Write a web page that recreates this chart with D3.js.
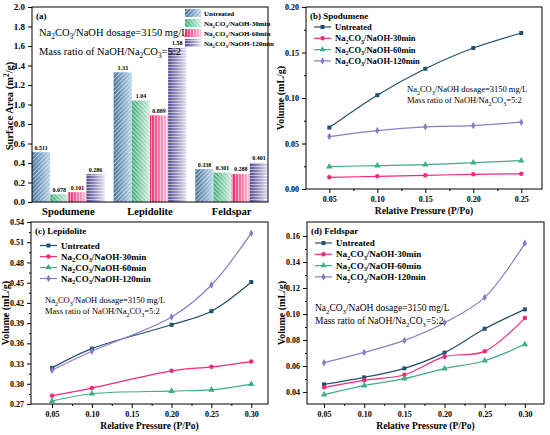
<!DOCTYPE html>
<html>
<head>
<meta charset="utf-8">
<script src="https://cdn.jsdelivr.net/npm/d3@7"></script>
<style>
body { margin: 0; background: #fff; }
svg { font-family: "Liberation Serif", "Times New Roman", serif; }
</style>
</head>
<body>
<script>
// donnees
var seriesNames = ["Untreated", "Na_2CO_3/NaOH-30min", "Na_2CO_3/NaOH-60min", "Na_2CO_3/NaOH-120min"];
var minerals = ["Spodumene", "Lepidolite", "Feldspar"];

// (a) surface specifique
var areaUntreated = [0.511, 1.33, 0.338];
var area30 = [0.078, 1.04, 0.301];
var area60 = [0.101, 0.889, 0.288];
var area120 = [0.286, 1.58, 0.401];
var areaTicks = [0, 0.2, 0.4, 0.6, 0.8, 1.0, 1.2, 1.4, 1.6, 1.8, 2.0];

// (b) spodumene
var spoP = [0.05, 0.10, 0.15, 0.20, 0.25];
var spoUntreated = [0.0675, 0.1031, 0.1321, 0.1549, 0.1714];
var spo30 = [0.0128, 0.0139, 0.0150, 0.0161, 0.0167];
var spo60 = [0.0246, 0.0257, 0.0268, 0.0290, 0.0312];
var spo120 = [0.0576, 0.0642, 0.0683, 0.0697, 0.0734];
var spoYTicks = [0.00, 0.05, 0.10, 0.15, 0.20];
var spoXTicks = [0.05, 0.10, 0.15, 0.20, 0.25];

// (c) lepidolite
var lepP = [0.05, 0.10, 0.20, 0.25, 0.30];
var lepUntreated = [0.3236, 0.3521, 0.3875, 0.4077, 0.451];
var lep30 = [0.2823, 0.2936, 0.3192, 0.3251, 0.333];
var lep60 = [0.2744, 0.2852, 0.2892, 0.291, 0.2995];
var lep120 = [0.3202, 0.3482, 0.399, 0.4466, 0.5234];
var lepYTicks = [0.27, 0.30, 0.33, 0.36, 0.39, 0.42, 0.45, 0.48, 0.51, 0.54];
var lepXTicks = [0.05, 0.10, 0.15, 0.20, 0.25, 0.30];

// (d) feldspar
var felP = [0.05, 0.10, 0.15, 0.20, 0.25, 0.30];
var felUntreated = [0.0459, 0.0513, 0.0582, 0.0703, 0.0887, 0.1036];
var fel30 = [0.0436, 0.049, 0.0533, 0.0672, 0.0713, 0.0969];
var fel60 = [0.038, 0.0449, 0.0503, 0.058, 0.0641, 0.0767];
var fel120 = [0.0626, 0.0705, 0.0797, 0.0933, 0.1128, 0.1544];
var felYTicks = [0.04, 0.06, 0.08, 0.10, 0.12, 0.14, 0.16];
var felXTicks = [0.05, 0.10, 0.15, 0.20, 0.25, 0.30];

var lineColors = ["#23506e", "#f5287a", "#3fae84", "#8c7cc4"];
var symbols = [d3.symbolSquare, d3.symbolCircle, d3.symbolTriangle, d3.symbolDiamond];

var svg = d3.select("body").append("svg")
	.attr("width", 550)
	.attr("height", 435);

// texte avec indices (_x) et exposants (^x)
function rich(sel, str, fs) {
	var re = /([_^])(.)|([^_^]+)/g, m, shift = 0;
	while ((m = re.exec(str)) !== null) {
		var t = sel.append("tspan");
		if (m[1] === "_") {
			t.text(m[2]).attr("font-size", fs * 0.7).attr("dy", fs * 0.3 - shift);
			shift = fs * 0.3;
		} else if (m[1] === "^") {
			t.text(m[2]).attr("font-size", fs * 0.7).attr("dy", -fs * 0.4 - shift);
			shift = -fs * 0.4;
		} else {
			t.text(m[3]);
			if (shift !== 0) t.attr("dy", -shift);
			shift = 0;
		}
	}
	return sel;
}

function txt(g, x, y, str, fs, bold, anchor) {
	var t = g.append("text")
		.attr("x", x).attr("y", y)
		.attr("font-size", fs)
		.attr("font-weight", bold ? "bold" : "normal")
		.attr("text-anchor", anchor || "start");
	return rich(t, str, fs);
}

function frame(x0, y0, x1, y1) {
	svg.append("rect")
		.attr("x", x0).attr("y", y0)
		.attr("width", x1 - x0).attr("height", y1 - y0)
		.attr("fill", "none").attr("stroke", "#000").attr("stroke-width", 1);
}

function axes(x, y, x0, y0, y1, xt, yt, xfmt, yfmt, fsT) {
	var ax = svg.append("g").attr("transform", "translate(0," + y1 + ")")
		.call(d3.axisBottom(x).tickValues(xt).tickFormat(xfmt).tickSize(4));
	var ay = svg.append("g").attr("transform", "translate(" + x0 + ",0)")
		.call(d3.axisLeft(y).tickValues(yt).tickFormat(yfmt).tickSize(4));
	[ax, ay].forEach(function(a) {
		a.select(".domain").remove();
		a.selectAll("text").attr("font-family", "Liberation Serif")
			.attr("font-weight", "bold").attr("font-size", fsT).attr("fill", "#000");
	});
	// petites graduations
	var minX = [], minY = [];
	for (var i = 0; i < xt.length - 1; i++) minX.push((xt[i] + xt[i + 1]) / 2);
	for (var j = 0; j < yt.length - 1; j++) minY.push((yt[j] + yt[j + 1]) / 2);
	svg.append("g").attr("transform", "translate(0," + y1 + ")")
		.call(d3.axisBottom(x).tickValues(minX).tickFormat("").tickSize(2))
		.select(".domain").remove();
	svg.append("g").attr("transform", "translate(" + x0 + ",0)")
		.call(d3.axisLeft(y).tickValues(minY).tickFormat("").tickSize(2))
		.select(".domain").remove();
}

// ---------- (a) histogramme ----------
var defs = svg.append("defs");
var grads = [["#3f6e98", "#b7d3ea"], ["#3aa874", "#cdeedc"], ["#e81f6e", "#ffc3d9"], ["#54468e", "#e4e0f3"]];
var rots = [45, -45, 0, 90];
grads.forEach(function(c, i) {
	var lg = defs.append("linearGradient").attr("id", "g" + i);
	lg.append("stop").attr("offset", "0%").attr("stop-color", c[0]);
	lg.append("stop").attr("offset", "100%").attr("stop-color", c[1]);
	var p = defs.append("pattern").attr("id", "p" + i)
		.attr("patternUnits", "userSpaceOnUse")
		.attr("width", 3).attr("height", 3)
		.attr("patternTransform", "rotate(" + rots[i] + ")");
	p.append("line").attr("x1", 1.5).attr("y1", 0).attr("x2", 1.5).attr("y2", 3)
		.attr("stroke", "#fff").attr("stroke-opacity", 0.55).attr("stroke-width", 1.1);
});

var aX0 = 32, aX1 = 268, aY0 = 7, aY1 = 202;
var xa = d3.scaleBand().domain(minerals).range([aX0, aX1]).paddingInner(0.11).paddingOuter(0);
var xs = d3.scaleBand().domain([0, 1, 2, 3]).range([0, xa.bandwidth()]);
var ya = d3.scaleLinear().domain([0, 2.0]).range([aY1, aY0]);
var areaSeries = [areaUntreated, area30, area60, area120];

var bars = [];
areaSeries.forEach(function(s, i) {
	s.forEach(function(v, k) { bars.push({ m: minerals[k], s: i, v: v }); });
});
var gb = svg.append("g");
["g", "p"].forEach(function(pre) {
	gb.selectAll("rect." + pre).data(bars).enter().append("rect")
		.attr("class", pre)
		.attr("x", function(d) { return xa(d.m) + xs(d.s); })
		.attr("y", function(d) { return ya(d.v); })
		.attr("width", xs.bandwidth())
		.attr("height", function(d) { return aY1 - ya(d.v); })
		.attr("fill", function(d) { return "url(#" + pre + d.s + ")"; });
});
gb.selectAll("text").data(bars).enter().append("text")
	.attr("x", function(d) { return xa(d.m) + xs(d.s) + xs.bandwidth() / 2; })
	.attr("y", function(d) { return ya(d.v) - 2.5; })
	.attr("text-anchor", "middle")
	.attr("font-size", 6).attr("font-weight", "bold")
	.text(function(d) { return String(d.v); });

frame(aX0, aY0, aX1, aY1);
var aya = svg.append("g").attr("transform", "translate(" + aX0 + ",0)")
	.call(d3.axisLeft(ya).tickValues(areaTicks).tickFormat(d3.format(".1f")).tickSize(4));
aya.select(".domain").remove();
aya.selectAll("text").attr("font-family", "Liberation Serif").attr("font-weight", "bold")
	.attr("font-size", 9).attr("fill", "#000");
var axa = svg.append("g").attr("transform", "translate(0," + aY1 + ")")
	.call(d3.axisBottom(xa).tickSize(0).tickPadding(4));
axa.select(".domain").remove();
axa.selectAll("text").attr("font-family", "Liberation Serif").attr("font-weight", "bold")
	.attr("font-size", 10.5).attr("fill", "#000").attr("dy", "0.9em");

txt(svg, 36, 19, "(a)", 9, true);
txt(svg, 39, 36, "Na_2CO_3/NaOH dosage=3150 mg/L", 10.5, false);
txt(svg, 39, 55, "Mass ratio of NaOH/Na_2CO_3=5:2", 10.5, false);
var la = svg.append("g");
seriesNames.forEach(function(n, i) {
	var yy = 13 + i * 10;
	la.append("rect").attr("x", 185).attr("y", yy - 4).attr("width", 16).attr("height", 8)
		.attr("fill", "url(#g" + i + ")");
	la.append("rect").attr("x", 185).attr("y", yy - 4).attr("width", 16).attr("height", 8)
		.attr("fill", "url(#p" + i + ")");
	txt(la, 204, yy + 2.5, n, 7, true);
});
var yl = svg.append("text").attr("transform", "translate(13,106) rotate(-90)")
	.attr("text-anchor", "middle").attr("font-size", 10.5).attr("font-weight", "bold");
rich(yl, "Surface Area (m^2/g)", 10.5);

// ---------- panneaux de courbes ----------
function linePanel(c) {
	var x = d3.scaleLinear().domain(c.xd).range([c.x0, c.x1]);
	var y = d3.scaleLinear().domain(c.yd).range([c.y1, c.y0]);
	frame(c.x0, c.y0, c.x1, c.y1);
	axes(x, y, c.x0, c.y0, c.y1, c.xt, c.yt, d3.format(".2f"), d3.format(".2f"), 8);
	var line = d3.line()
		.x(function(d) { return x(d[0]); })
		.y(function(d) { return y(d[1]); })
		.curve(d3.curveCatmullRom.alpha(0.5));
	c.series.forEach(function(s, i) {
		var pts = c.p.map(function(p, k) { return [p, s[k]]; });
		svg.append("path").datum(pts).attr("d", line)
			.attr("fill", "none").attr("stroke", lineColors[i]).attr("stroke-width", 1.2);
		svg.selectAll(null).data(pts).enter().append("path")
			.attr("d", d3.symbol().type(symbols[i]).size(i === 2 ? 18 : 16))
			.attr("transform", function(d) { return "translate(" + x(d[0]) + "," + y(d[1]) + ")"; })
			.attr("fill", lineColors[i]);
	});
	txt(svg, c.x0 + 4, c.y0 + 12, c.title, 9, true);
	seriesNames.forEach(function(n, i) {
		var yy = c.ly + i * c.ls;
		svg.append("line").attr("x1", c.lx).attr("x2", c.lx + 17).attr("y1", yy).attr("y2", yy)
			.attr("stroke", lineColors[i]).attr("stroke-width", 1.2);
		svg.append("path").attr("d", d3.symbol().type(symbols[i]).size(16))
			.attr("transform", "translate(" + (c.lx + 8.5) + "," + yy + ")")
			.attr("fill", lineColors[i]);
		txt(svg, c.lx + 21, yy + 3, n, c.lf, true);
	});
	txt(svg, c.ax, c.ay, "Na_2CO_3/NaOH dosage=3150 mg/L", c.af, false);
	txt(svg, c.ax, c.ay + c.af * 1.35, "Mass ratio of NaOH/Na_2CO_3=5:2", c.af, false);
	svg.append("text").attr("transform", "translate(" + c.ylx + "," + (c.y0 + c.y1) / 2 + ") rotate(-90)")
		.attr("text-anchor", "middle").attr("font-size", 10).attr("font-weight", "bold")
		.text("Volume (mL/g)");
	svg.append("text").attr("x", (c.x0 + c.x1) / 2).attr("y", c.y1 + 25)
		.attr("text-anchor", "middle").attr("font-size", 9.5).attr("font-weight", "bold")
		.text("Relative Pressure (P/Po)");
}

linePanel({
	x0: 306, x1: 542, y0: 7, y1: 189,
	xd: [0.0257, 0.2716], yd: [0, 0.20], xt: spoXTicks, yt: spoYTicks,
	p: spoP, series: [spoUntreated, spo30, spo60, spo120],
	title: "(b) Spodumene", lx: 314, ly: 27, ls: 11.3, lf: 8.5,
	ax: 407, ay: 92, af: 8.5, ylx: 284
});
linePanel({
	x0: 31, x1: 268, y0: 222, y1: 404,
	xd: [0.0236, 0.321], yd: [0.27, 0.54], xt: lepXTicks, yt: lepYTicks,
	p: lepP, series: [lepUntreated, lep30, lep60, lep120],
	title: "(c) Lepidolite", lx: 40, ly: 245.5, ls: 11, lf: 9,
	ax: 45, ay: 303, af: 8.5, ylx: 9
});
linePanel({
	x0: 307, x1: 544, y0: 222, y1: 404,
	xd: [0.0288, 0.3238], yd: [0.0308, 0.1708], xt: felXTicks, yt: felYTicks,
	p: felP, series: [felUntreated, fel30, fel60, fel120],
	title: "(d) Feldspar", lx: 315, ly: 243, ls: 11.3, lf: 9,
	ax: 315, ay: 311, af: 9.5, ylx: 285
});
</script>
</body>
</html>
